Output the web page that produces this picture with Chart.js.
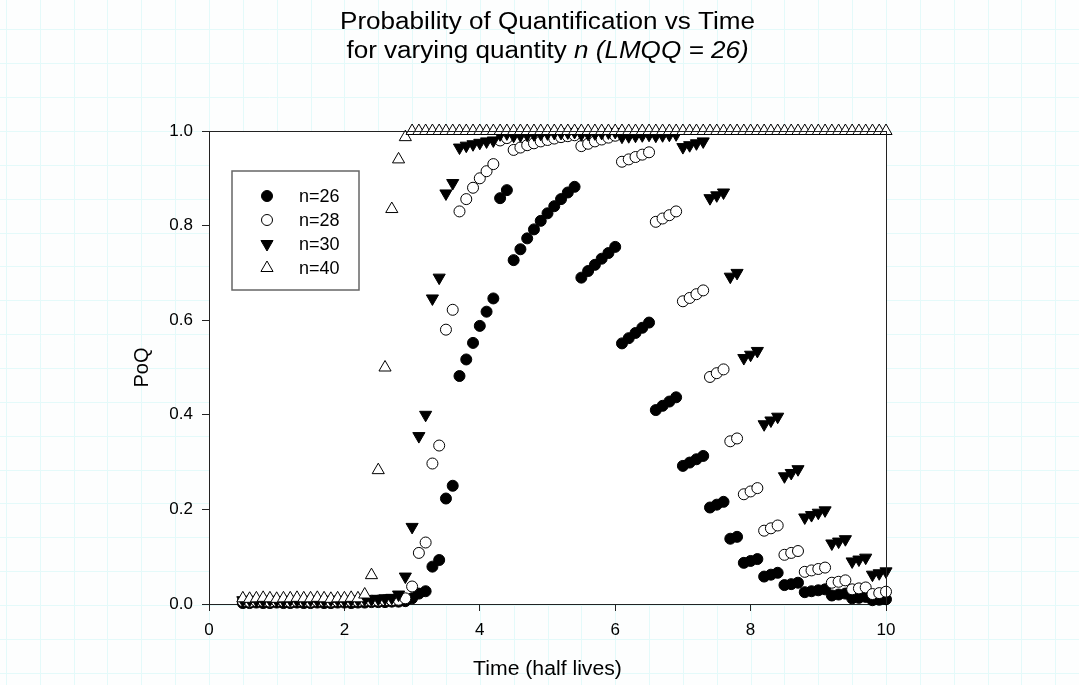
<!DOCTYPE html>
<html>
<head>
<meta charset="utf-8">
<script src="https://cdn.jsdelivr.net/npm/chart.js@4.4.1/dist/chart.umd.min.js"></script>
<style>
  html, body { margin: 0; padding: 0; background: #fff; }
  #wrap { width: 1079px; height: 685px; position: relative; }
</style>
</head>
<body>
<div id="wrap"><canvas id="poq-chart" width="1079" height="685"></canvas></div>
<script>
// time in half lives
const times = [
  0.5, 0.6, 0.7, 0.8, 0.9, 1.0, 1.1, 1.2, 1.3, 1.4,
  1.5, 1.6, 1.7, 1.8, 1.9, 2.0, 2.1, 2.2, 2.3, 2.4,
  2.5, 2.6, 2.7, 2.8, 2.9, 3.0, 3.1, 3.2, 3.3, 3.4,
  3.5, 3.6, 3.7, 3.8, 3.9, 4.0, 4.1, 4.2, 4.3, 4.4,
  4.5, 4.6, 4.7, 4.8, 4.9, 5.0, 5.1, 5.2, 5.3, 5.4,
  5.5, 5.6, 5.7, 5.8, 5.9, 6.0, 6.1, 6.2, 6.3, 6.4,
  6.5, 6.6, 6.7, 6.8, 6.9, 7.0, 7.1, 7.2, 7.3, 7.4,
  7.5, 7.6, 7.7, 7.8, 7.9, 8.0, 8.1, 8.2, 8.3, 8.4,
  8.5, 8.6, 8.7, 8.8, 8.9, 9.0, 9.1, 9.2, 9.3, 9.4,
  9.5, 9.6, 9.7, 9.8, 9.9, 10.0
]

// PoQ for each quantity n
const poq26 = [
  0.002, 0.002, 0.003, 0.002, 0.002, 0.003, 0.002, 0.002, 0.003, 0.002,
  0.002, 0.003, 0.002, 0.002, 0.003, 0.003, 0.002, 0.003, 0.003, 0.004,
  0.004, 0.004, 0.005, 0.005, 0.006, 0.012, 0.022, 0.027, 0.079, 0.093,
  0.223, 0.250, 0.482, 0.517, 0.552, 0.588, 0.618, 0.646, 0.858, 0.875,
  0.727, 0.750, 0.773, 0.792, 0.810, 0.826, 0.841, 0.856, 0.870, 0.882,
  0.690, 0.704, 0.717, 0.730, 0.742, 0.755, 0.551, 0.562, 0.573, 0.584,
  0.595, 0.410, 0.419, 0.428, 0.437, 0.292, 0.299, 0.306, 0.313, 0.204,
  0.210, 0.216, 0.138, 0.142, 0.087, 0.091, 0.095, 0.058, 0.062, 0.066,
  0.040, 0.042, 0.045, 0.025, 0.027, 0.029, 0.031, 0.018, 0.020, 0.022,
  0.012, 0.013, 0.015, 0.008, 0.009, 0.010
]
const poq28 = [
  0.006, 0.005, 0.006, 0.006, 0.005, 0.006, 0.006, 0.005, 0.006, 0.006,
  0.005, 0.006, 0.006, 0.005, 0.006, 0.006, 0.006, 0.006, 0.007, 0.007,
  0.007, 0.008, 0.008, 0.009, 0.012, 0.037, 0.108, 0.130, 0.297, 0.335,
  0.580, 0.622, 0.830, 0.856, 0.880, 0.900, 0.915, 0.930, 0.980, 0.985,
  0.960, 0.965, 0.970, 0.974, 0.978, 0.981, 0.984, 0.987, 0.989, 0.991,
  0.968, 0.973, 0.978, 0.982, 0.986, 0.990, 0.935, 0.940, 0.945, 0.950,
  0.955, 0.808, 0.815, 0.822, 0.830, 0.640, 0.647, 0.655, 0.663, 0.480,
  0.488, 0.496, 0.344, 0.350, 0.232, 0.238, 0.245, 0.155, 0.160, 0.166,
  0.104, 0.108, 0.112, 0.068, 0.071, 0.074, 0.077, 0.045, 0.047, 0.050,
  0.031, 0.033, 0.035, 0.021, 0.023, 0.026
]
const poq30 = [
  0.008, 0.009, 0.008, 0.008, 0.009, 0.008, 0.008, 0.009, 0.008, 0.008,
  0.009, 0.008, 0.008, 0.009, 0.009, 0.008, 0.009, 0.009, 0.010, 0.010,
  0.011, 0.012, 0.013, 0.020, 0.058, 0.163, 0.355, 0.400, 0.646, 0.690,
  0.868, 0.890, 0.965, 0.969, 0.972, 0.975, 0.978, 0.980, 0.993, 0.995,
  0.990, 0.991, 0.992, 0.993, 0.994, 0.995, 0.996, 0.996, 0.997, 0.998,
  0.993, 0.994, 0.995, 0.996, 0.997, 0.998, 0.988, 0.989, 0.990, 0.991,
  0.992, 0.990, 0.991, 0.992, 0.993, 0.966, 0.970, 0.974, 0.978, 0.858,
  0.864, 0.870, 0.692, 0.700, 0.520, 0.527, 0.535, 0.380, 0.388, 0.396,
  0.270, 0.277, 0.285, 0.183, 0.188, 0.193, 0.198, 0.128, 0.132, 0.137,
  0.090, 0.094, 0.098, 0.062, 0.065, 0.069
]
const poq40 = [
  0.012, 0.011, 0.012, 0.013, 0.012, 0.011, 0.012, 0.012, 0.013, 0.012,
  0.012, 0.013, 0.012, 0.011, 0.012, 0.012, 0.013, 0.012, 0.020, 0.061,
  0.283, 0.500, 0.835, 0.940, 0.987, 1.000, 1.000, 1.000, 1.000, 1.000,
  1.000, 1.000, 1.000, 1.000, 1.000, 1.000, 1.000, 1.000, 1.000, 1.000,
  1.000, 1.000, 1.000, 1.000, 1.000, 1.000, 1.000, 1.000, 1.000, 1.000,
  1.000, 1.000, 1.000, 1.000, 1.000, 1.000, 1.000, 1.000, 1.000, 1.000,
  1.000, 1.000, 1.000, 1.000, 1.000, 1.000, 1.000, 1.000, 1.000, 1.000,
  1.000, 1.000, 1.000, 1.000, 1.000, 1.000, 1.000, 1.000, 1.000, 1.000,
  1.000, 1.000, 1.000, 1.000, 1.000, 1.000, 1.000, 1.000, 1.000, 1.000,
  1.000, 1.000, 1.000, 1.000, 1.000, 1.000
]

const seriesLabels = ['n=26', 'n=28', 'n=30', 'n=40']
const xTicks = [0, 2, 4, 6, 8, 10]
const yTicks = [0, 0.2, 0.4, 0.6, 0.8, 1.0]

const FONT = '"Liberation Sans", Arial, sans-serif'
const ink = '#000'

// marker looks, same order as the labels
const markers = [
  { pointStyle: 'circle', radius: 5.5, rotation: 0, fill: '#000' },
  { pointStyle: 'circle', radius: 5.5, rotation: 0, fill: '#fff' },
  { pointStyle: 'triangle', radius: 7, rotation: 180, fill: '#000' },
  { pointStyle: 'triangle', radius: 7, rotation: 0, fill: '#fff' }
]

const seriesValues = [poq26, poq28, poq30, poq40]

const datasets = seriesValues.map((values, i) => ({
  label: seriesLabels[i],
  data: times.map((t, k) => ({ x: t, y: values[k] })),
  pointStyle: markers[i].pointStyle,
  pointRadius: markers[i].radius,
  pointHoverRadius: markers[i].radius,
  pointRotation: markers[i].rotation,
  backgroundColor: markers[i].fill,
  borderColor: ink,
  borderWidth: 1,
  showLine: false,
  clip: false,
  order: seriesValues.length - i
}))

// light cyan graph paper behind everything, plot area kept white
const paperPlugin = {
  id: 'paper',
  beforeDraw(chart) {
    const { ctx, chartArea, scales: { x, y } } = chart
    const step = x.getPixelForValue(0.5) - x.getPixelForValue(0)
    ctx.save()
    ctx.fillStyle = '#fdfefe'
    ctx.fillRect(0, 0, chart.width, chart.height)
    ctx.strokeStyle = '#e4fafa'
    ctx.lineWidth = 1
    ctx.beginPath()
    let gx = x.getPixelForValue(0)
    while (gx - step > 0) gx -= step
    for (; gx < chart.width; gx += step) {
      const px = Math.round(gx) + 0.5
      ctx.moveTo(px, 0)
      ctx.lineTo(px, chart.height)
    }
    let gy = y.getPixelForValue(1)
    while (gy - step > 0) gy -= step
    for (; gy < chart.height; gy += step) {
      const py = Math.round(gy) + 0.5
      ctx.moveTo(0, py)
      ctx.lineTo(chart.width, py)
    }
    ctx.stroke()
    ctx.fillStyle = '#ffffff'
    ctx.fillRect(chartArea.left, chartArea.top, chartArea.right - chartArea.left, chartArea.bottom - chartArea.top)
    ctx.restore()
  }
}

function drawParts(ctx, parts, cx, cy, sx, rotation) {
  let total = 0
  parts.forEach(p => {
    ctx.font = p.font
    p.w = ctx.measureText(p.text).width
    total += p.w
  })
  ctx.save()
  ctx.translate(cx, cy)
  if (rotation) ctx.rotate(rotation)
  ctx.scale(sx, 1)
  ctx.fillStyle = ink
  ctx.textAlign = 'left'
  ctx.textBaseline = 'alphabetic'
  let px = -total / 2
  parts.forEach(p => {
    ctx.font = p.font
    ctx.fillText(p.text, px, 0)
    px += p.w
  })
  ctx.restore()
}

// title, axis titles, frame and legend box
const decorPlugin = {
  id: 'decor',
  afterDraw(chart) {
    const { ctx, chartArea: area } = chart
    const cx = (area.left + area.right) / 2

    ctx.save()
    ctx.strokeStyle = '#222'
    ctx.lineWidth = 1
    ctx.beginPath()
    ctx.moveTo(area.left, Math.round(area.top) + 0.5)
    ctx.lineTo(area.right, Math.round(area.top) + 0.5)
    ctx.moveTo(Math.round(area.right) + 0.5, area.top)
    ctx.lineTo(Math.round(area.right) + 0.5, area.bottom)
    ctx.stroke()
    ctx.restore()

    const titleFont = '23px ' + FONT
    const titleItalic = 'italic 23px ' + FONT
    ctx.font = titleFont
    const sx = 415 / ctx.measureText('Probability of Quantification vs Time').width
    drawParts(ctx, [{ text: 'Probability of Quantification vs Time', font: titleFont }], cx, 29, sx)
    drawParts(ctx, [
      { text: 'for varying quantity ', font: titleFont },
      { text: 'n (LMQQ = 26)', font: titleItalic }
    ], cx, 57.5, sx)

    drawParts(ctx, [{ text: 'Time (half lives)', font: '20px ' + FONT }], cx, 675, 1.06)
    drawParts(ctx, [{ text: 'PoQ', font: '20px ' + FONT }], 148, (area.top + area.bottom) / 2, 1, -Math.PI / 2)

    // legend
    const bx = area.left + 23
    const by = area.top + 40
    ctx.save()
    ctx.fillStyle = '#fff'
    ctx.fillRect(bx, by, 127, 119)
    ctx.strokeStyle = '#666'
    ctx.lineWidth = 1.5
    ctx.strokeRect(bx, by, 127, 119)
    ctx.font = '18px ' + FONT
    ctx.textBaseline = 'middle'
    ctx.textAlign = 'left'
    seriesLabels.forEach((label, i) => {
      const rowY = by + 25 + 24 * i
      const m = markers[i]
      ctx.fillStyle = m.fill
      ctx.strokeStyle = ink
      ctx.lineWidth = 1
      Chart.helpers.drawPoint(ctx, { pointStyle: m.pointStyle, radius: m.radius, rotation: m.rotation, borderWidth: 1 }, bx + 35, rowY)
      ctx.fillStyle = ink
      ctx.fillText(label, bx + 67, rowY + 1)
    })
    ctx.restore()
  }
}

const tickFont = { family: FONT, size: 17 }

new Chart(document.getElementById('poq-chart'), {
  type: 'scatter',
  data: { datasets },
  options: {
    responsive: false,
    animation: false,
    layout: { padding: { left: 0, top: 131, right: 193, bottom: 0 } },
    plugins: {
      legend: { display: false },
      tooltip: { enabled: false },
      title: { display: false }
    },
    scales: {
      x: {
        type: 'linear',
        min: 0,
        max: 10,
        afterBuildTicks: scale => { scale.ticks = xTicks.map(v => ({ value: v })) },
        afterFit: scale => { scale.height = 81 },
        ticks: { font: tickFont, color: ink, padding: 9, callback: v => String(v) },
        grid: { drawOnChartArea: false, drawTicks: true, tickLength: 7, color: '#222' },
        border: { display: true, color: '#222', width: 1 }
      },
      y: {
        type: 'linear',
        min: 0,
        max: 1,
        afterBuildTicks: scale => { scale.ticks = yTicks.map(v => ({ value: v })) },
        afterFit: scale => { scale.width = 209 },
        ticks: { font: tickFont, color: ink, padding: 9, callback: v => Number(v).toFixed(1) },
        grid: { drawOnChartArea: false, drawTicks: true, tickLength: 7, color: '#222' },
        border: { display: true, color: '#222', width: 1 }
      }
    }
  },
  plugins: [paperPlugin, decorPlugin]
})
</script>
</body>
</html>
